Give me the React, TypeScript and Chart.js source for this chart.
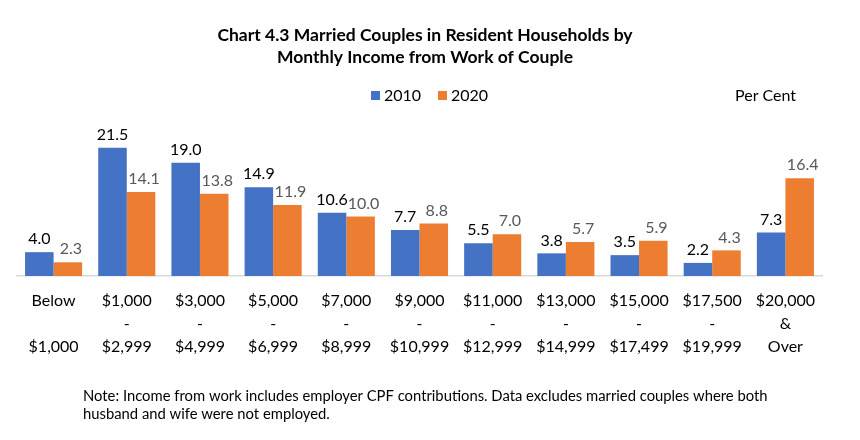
import React, { useEffect, useRef } from "react";
import { Chart, registerables } from "chart.js";

Chart.register(...registerables);

const categories: string[][] = [
  ["Below", "", "$1,000"],
  ["$1,000", "-", "$2,999"],
  ["$3,000", "-", "$4,999"],
  ["$5,000", "-", "$6,999"],
  ["$7,000", "-", "$8,999"],
  ["$9,000", "-", "$10,999"],
  ["$11,000", "-", "$12,999"],
  ["$13,000", "-", "$14,999"],
  ["$15,000", "-", "$17,499"],
  ["$17,500", "-", "$19,999"],
  ["$20,000", "&", "Over"],
];

const values2010 = [4.0, 21.5, 19.0, 14.9, 10.6, 7.7, 5.5, 3.8, 3.5, 2.2, 7.3];
const values2020 = [2.3, 14.1, 13.8, 11.9, 10.0, 8.8, 7.0, 5.7, 5.9, 4.3, 16.4];

const seriesNames = ["2010", "2020"];
const titleLines = [
  "Chart 4.3 Married Couples in Resident Households by",
  "Monthly Income from Work of Couple",
];
const unitLabel = "Per Cent";
const noteLines = [
  "Note: Income from work includes employer CPF contributions. Data excludes married couples where both",
  "husband and wife were not employed.",
];

const BLUE = "#4472C4";
const ORANGE = "#ED7D31";
const FONT = "Lato, 'Open Sans', sans-serif";

const decorPlugin = {
  id: "decor",
  afterDatasetsDraw(chart: any) {
    const ctx = chart.ctx;
    ctx.save();
    ctx.font = `16px ${FONT}`;
    ctx.textAlign = "center";
    ctx.textBaseline = "bottom";
    chart.data.datasets.forEach((ds: any, di: number) => {
      const meta = chart.getDatasetMeta(di);
      ctx.fillStyle = di === 0 ? "#000000" : "#595959";
      meta.data.forEach((el: any, i: number) => {
        ctx.fillText(Number(ds.data[i]).toFixed(1), el.x + (di === 1 ? 3 : 0), el.y - 5);
      });
    });
    ctx.restore();
  },
  afterDraw(chart: any) {
    const ctx = chart.ctx;
    ctx.save();
    // Title
    ctx.fillStyle = "#000000";
    ctx.font = `bold 17.5px ${FONT}`;
    ctx.textAlign = "center";
    ctx.textBaseline = "middle";
    titleLines.forEach((t, i) => ctx.fillText(t, 425, 35 + i * 22));
    // Legend
    ctx.font = `16px ${FONT}`;
    ctx.textAlign = "left";
    const colors = [BLUE, ORANGE];
    const xs = [371, 438];
    seriesNames.forEach((n, i) => {
      ctx.fillStyle = colors[i];
      ctx.fillRect(xs[i], 91, 9, 9);
      ctx.fillStyle = "#000000";
      ctx.fillText(n, xs[i] + 13, 96);
    });
    // Unit
    ctx.fillText(unitLabel, 735, 96);
    // Note
    ctx.font = `14.8px ${FONT}`;
    noteLines.forEach((t, i) => ctx.fillText(t, 83, 396 + i * 18));
    ctx.restore();
  },
};

export default function App() {
  const ref = useRef<HTMLCanvasElement | null>(null);
  useEffect(() => {
    if (!ref.current) return;
    const chart = new Chart(ref.current, {
      type: "bar",
      data: {
        labels: categories,
        datasets: [
          {
            label: seriesNames[0],
            data: values2010,
            backgroundColor: BLUE,
            categoryPercentage: 0.78,
            barPercentage: 1.0,
          },
          {
            label: seriesNames[1],
            data: values2020,
            backgroundColor: ORANGE,
            categoryPercentage: 0.78,
            barPercentage: 1.0,
          },
        ],
      },
      options: {
        responsive: false,
        animation: false,
        layout: { padding: { top: 127, left: 17, right: 38, bottom: 0 } },
        plugins: {
          legend: { display: false },
          title: { display: false },
          tooltip: { enabled: false },
        },
        scales: {
          x: {
            grid: { display: false, drawTicks: false },
            border: { display: true, color: "#d9d9d9", width: 1.5 },
            ticks: {
              color: "#000000",
              font: { family: FONT, size: 16, lineHeight: 1.45 },
              padding: 13,
              maxRotation: 0,
              autoSkip: false,
            },
            afterFit(scale: any) {
              scale.height = 164;
            },
          },
          y: {
            display: false,
            min: 0,
            max: 25,
          },
        },
      },
      plugins: [decorPlugin],
    });
    return () => chart.destroy();
  }, []);
  return (
    <div style={{ position: "absolute", left: 0, top: 0, width: 860, height: 440, background: "#fff" }}>
      <canvas ref={ref} width={860} height={440} style={{ display: "block" }} />
    </div>
  );
}
